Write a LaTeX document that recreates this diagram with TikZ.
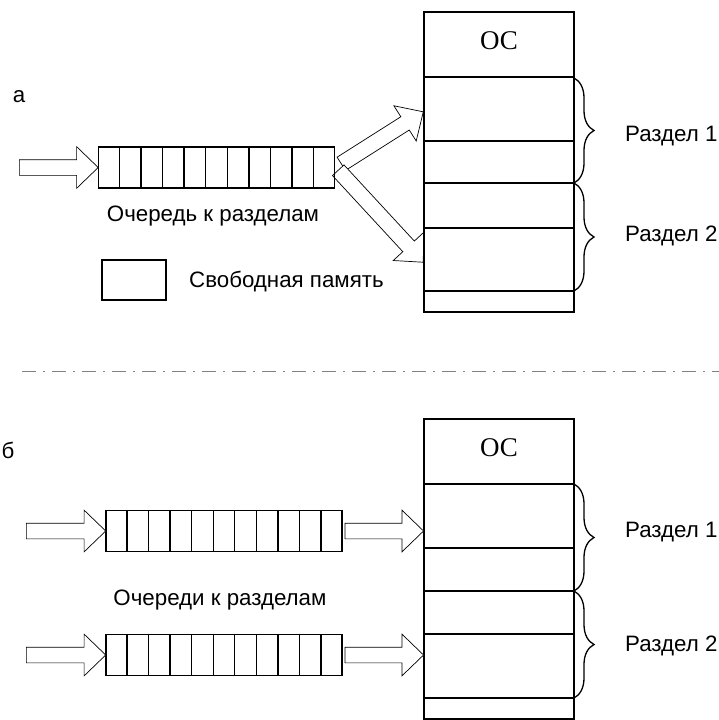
\documentclass[tikz,border=0pt]{standalone}
\usepackage{fontspec}
\setmainfont{Liberation Sans}
\newfontfamily\osfont{Liberation Serif}
\usetikzlibrary{shapes.arrows, calc, decorations.pathreplacing}

% hohler Blockpfeil von #1 nach #2
\newcommand{\fatarrow}[2]{%
  \path let \p1=($(#2)-(#1)$), \n1={atan2(\y1,\x1)}, \n2={veclen(\x1,\y1)} in
    (#1) node[blockarrow, minimum height=\n2, rotate=\n1, anchor=tail] {};}

\begin{document}
\begin{tikzpicture}[x=1pt, y=-1pt,
			queue/.style={draw, line width=1.3pt, inner sep=0pt, minimum width=236pt, minimum height=41pt},
			cellline/.style={line width=1.3pt},
			memory/.style={draw, line width=1.6pt, inner sep=0pt, minimum width=150pt, minimum height=300pt},
			rowline/.style={line width=1.4pt},
			blockarrow/.style={single arrow, draw, fill=white, line width=0.7pt, inner xsep=0pt, inner ysep=7.5pt,
				minimum width=0pt, single arrow head extend=13pt, single arrow head indent=0pt, single arrow tip angle=88},
			membrace/.style={decorate, decoration={brace, amplitude=20pt}, line width=1.3pt},
			sepline/.style={gray, line width=1pt, dash pattern=on 14pt off 7pt on 2pt off 7pt},
			txt/.style={inner sep=0pt},
			font={\fontsize{22.3}{26}\selectfont}]
			\useasboundingbox (0,0) rectangle (719,720);
			% Teil a
			\node[txt] (lbla) at (19,97) {а};
			\coordinate (ina) at (19,167.5);
			\coordinate (ua) at (341,164);
			\coordinate (ub) at (423,112);
			\coordinate (da) at (338,170);
			\coordinate (db) at (423,262);
			\fatarrow{ua}{ub}
			\fatarrow{da}{db}
			\node[queue] (qa) at (216.5,167.5) {};
			\foreach \i in {1,...,10}
				\draw[cellline] ($(qa.north west)!\i/11!(qa.north east)$) -- ($(qa.south west)!\i/11!(qa.south east)$);
			\fatarrow{ina}{qa.west}
			\node[txt] (qatext) at (213,216) {Очередь к разделам};
			\node[draw, line width=1.3pt, inner sep=0pt, minimum width=64pt, minimum height=40pt] (free) at (134,280) {};
			\node[txt, anchor=west] (freetext) at (189,282) {Свободная память};
			\node[memory] (ma) at (499,162) {};
			\foreach \yy in {77,141,183,228,291}
				\draw[rowline] (424,\yy) -- (574,\yy);
			\node[txt, font={\osfont\fontsize{27}{30}\selectfont}] (osa) at (499,41) {ОС};
			\draw[membrace] (574,78) -- (574,183);
			\draw[membrace] (574,183) -- (574,291);
			\node[txt, anchor=west] (pa1) at (625,136) {Раздел 1};
			\node[txt, anchor=west] (pa2) at (625,236) {Раздел 2};
			% Trennlinie
			\coordinate (sl) at (22,371);
			\coordinate (sr) at (719,371);
			\draw[sepline] (sl) -- (sr);
			% Teil b
			\node[txt] (lblb) at (8,450) {б};
			\node[queue] (qb1) at (224,531) {};
			\node[queue] (qb2) at (224,655) {};
			\foreach \q in {qb1,qb2}
				\foreach \i in {1,...,10}
					\draw[cellline] ($(\q.north west)!\i/11!(\q.north east)$) -- ($(\q.south west)!\i/11!(\q.south east)$);
			\node[memory] (mb) at (499,569) {};
			\foreach \yy in {484,548,591,634,698}
				\draw[rowline] (424,\yy) -- (574,\yy);
			\node[txt, font={\osfont\fontsize{27}{30}\selectfont}] (osb) at (499,448) {ОС};
			\coordinate (inb1) at (26,531);
			\coordinate (inb2) at (26,655);
			\coordinate (outb1) at ($(qb1.east)+(2,0)$);
			\coordinate (outb2) at ($(qb2.east)+(2,0)$);
			\coordinate (mb1) at (mb.west |- qb1.east);
			\coordinate (mb2) at (mb.west |- qb2.east);
			\fatarrow{inb1}{qb1.west}
			\fatarrow{inb2}{qb2.west}
			\fatarrow{outb1}{mb1}
			\fatarrow{outb2}{mb2}
			\node[txt] (qbtext) at (220,600) {Очереди к разделам};
			\draw[membrace] (574,484) -- (574,591);
			\draw[membrace] (574,591) -- (574,698);
			\node[txt, anchor=west] (pb1) at (625,532) {Раздел 1};
			\node[txt, anchor=west] (pb2) at (625,646) {Раздел 2};
		\end{tikzpicture}
\end{document}
